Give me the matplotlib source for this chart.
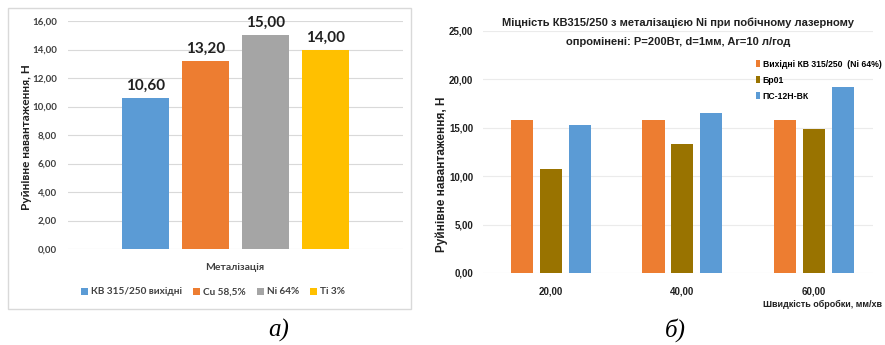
import matplotlib
matplotlib.use("Agg")
import matplotlib.pyplot as plt
from matplotlib.patches import Rectangle
import numpy as np

W, H = 885, 345

# ---- data: panel a ----
metal_labels = ["КВ 315/250 вихідні", "Cu 58,5%", "Ni 64%", "Ti 3%"]
metal_values = [10.60, 13.20, 15.00, 14.00]
metal_colors = ["#5B9BD5", "#ED7D31", "#A5A5A5", "#FFC000"]
a_yticks = [0, 2, 4, 6, 8, 10, 12, 14, 16]

# ---- data: panel b ----
speeds = ["20,00", "40,00", "60,00"]
series_names = ["Вихідні КВ 315/250  (Ni 64%)", "Бр01", "ПС-12Н-ВК"]
series_values = [
    [15.8, 15.8, 15.8],
    [10.7, 13.3, 14.9],
    [15.3, 16.5, 19.2],
]
series_colors = ["#ED7D31", "#997300", "#5B9BD5"]
b_yticks = [0, 5, 10, 15, 20, 25]


def fx(x):
    return x / W


def fy(y):
    return 1 - y / H


def fmt(v):
    return f"{v:.2f}".replace(".", ",")


fig = plt.figure(figsize=(W / 100, H / 100), dpi=100)
fig.patch.set_facecolor("white")

# frame of panel a
fig.patches.append(Rectangle((fx(8), fy(309)), fx(411) - fx(8), fy(8) - fy(309),
                             transform=fig.transFigure, fill=False,
                             edgecolor="#D9D9D9", linewidth=1.0))

fa = "Lato"
axa = fig.add_axes([fx(68), fy(249), fx(403) - fx(68), fy(21) - fy(249)])
xa = np.arange(len(metal_values))
bars_a = axa.bar(xa, metal_values, width=0.78, color=metal_colors, zorder=3)
axa.set_xlim(-1.28, 4.28)
axa.set_ylim(0, 16)
axa.set_yticks(a_yticks)
axa.set_yticklabels([fmt(v) for v in a_yticks], fontsize=7, fontweight="bold",
                    family=fa, color="#404040")
axa.set_xticks([])
axa.tick_params(axis="y", length=0, pad=8)
axa.yaxis.grid(True, color="#D9D9D9", linewidth=0.8, zorder=0)
for s in axa.spines.values():
    s.set_visible(False)
for x, v in zip(xa, metal_values):
    axa.text(x, v + 0.35, fmt(v), ha="center", va="bottom", fontsize=11,
             family=fa, fontweight="bold", color="#202020")
fig.text(fx(27), fy(137), "Руйнівне навантаження, Н", rotation=90, ha="center",
         va="center", fontsize=8.5, fontweight="bold", family=fa, color="#202020")
fig.text(fx(235), fy(267), "Металізація", ha="center", va="center", fontsize=7.5,
         fontweight="bold", family=fa, color="#404040")
leg_a = fig.legend(bars_a, metal_labels, loc="center", bbox_to_anchor=(fx(213), fy(292)),
                   ncol=4, frameon=False, handlelength=0.7, handleheight=0.7,
                   handletextpad=0.3, columnspacing=1.1,
                   prop={"family": fa, "weight": "bold", "size": 7.2})
for t in leg_a.get_texts():
    t.set_color("#404040")

# ---- panel b ----
fb = "Liberation Sans"
axb = fig.add_axes([fx(483), fy(273), fx(873) - fx(483), fy(31) - fy(273)])
xb = np.arange(len(speeds))
handles = []
for i, (name, vals, col) in enumerate(zip(series_names, series_values, series_colors)):
    h = axb.bar(xb + (i - 1) * 0.22, vals, width=0.168, color=col, zorder=3, label=name)
    handles.append(h)
axb.set_xlim(-0.517, 2.45)
axb.set_ylim(0, 25)
axb.set_yticks(b_yticks)
axb.set_yticklabels([fmt(v) for v in b_yticks], fontsize=7, fontweight="bold",
                    family=fb, color="#202020")
axb.set_xticks(xb)
axb.set_xticklabels(speeds, fontsize=7, fontweight="bold", family=fb, color="#202020")
axb.tick_params(axis="both", length=0)
axb.tick_params(axis="y", pad=7)
axb.tick_params(axis="x", pad=10)
axb.yaxis.grid(True, color="#EBEBEB", linewidth=0.8, zorder=0)
for s in axb.spines.values():
    s.set_visible(False)
leg_b = axb.legend(handles, series_names, loc="upper left",
                   bbox_to_anchor=(fx(748), fy(52)), bbox_transform=fig.transFigure,
                   frameon=False, handlelength=0.5, handleheight=0.9, handletextpad=0.3,
                   labelspacing=0.8, prop={"family": fb, "weight": "bold", "size": 6.2})
fig.text(fx(678), fy(23), "Міцність КВ315/250 з металізацією Ni при побічному лазерному",
         ha="center", va="center", fontsize=8, fontweight="bold", family=fb, color="#202020")
fig.text(fx(678), fy(42), "опромінені: P=200Вт, d=1мм, Ar=10 л/год",
         ha="center", va="center", fontsize=8, fontweight="bold", family=fb, color="#202020")
fig.text(fx(442), fy(174), "Руйнівне навантаження, Н", rotation=90, ha="center",
         va="center", fontsize=8.5, fontweight="bold", family=fb, color="#202020")
fig.text(fx(882), fy(304), "Швидкість обробки, мм/хв", ha="right", va="center",
         fontsize=6.5, fontweight="bold", family=fb, color="#202020")

# sub-figure labels
fig.text(fx(279), fy(330), "а)", ha="center", va="center", fontsize=18,
         family="Liberation Serif", style="italic")
fig.text(fx(675), fy(330), "б)", ha="center", va="center", fontsize=18,
         family="Liberation Serif", style="italic")

fig.savefig("out.png", dpi=100)
